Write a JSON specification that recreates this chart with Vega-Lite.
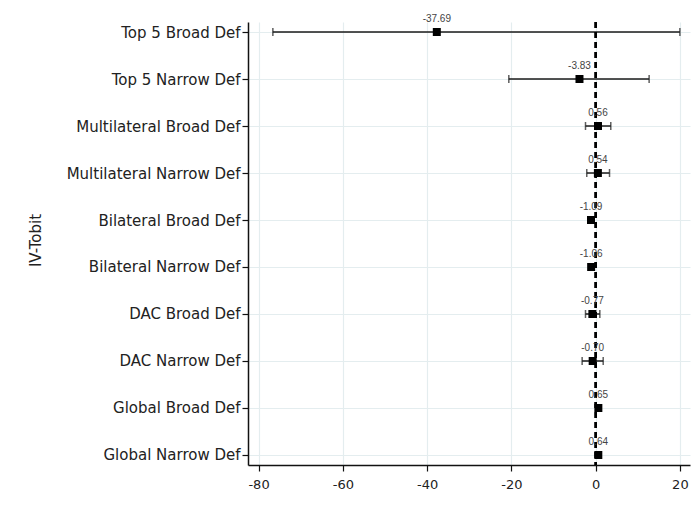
{
  "$schema": "https://vega.github.io/schema/vega-lite/v6.json",
  "width": 442,
  "height": 443,
  "autosize": {"type": "none"},
  "padding": {"left": 248, "top": 22, "right": 7, "bottom": 47},
  "background": "white",
  "config": {
    "view": {"stroke": null},
    "font": "Liberation Sans",
    "axis": {
      "domainColor": "#111",
      "domainWidth": 1.5,
      "tickColor": "#111",
      "tickWidth": 1.2,
      "tickSize": 6,
      "gridColor": "#e4edef",
      "gridWidth": 1.2,
      "labelFont": "DejaVu Sans",
      "labelFontSize": 15,
      "labelColor": "#222",
      "titleFont": "DejaVu Sans",
      "titleFontSize": 15,
      "titleFontWeight": "normal",
      "titleColor": "#222"
    }
  },
  "data": {
    "values": [
      {"model": "Top 5 Broad Def", "coef": -37.69, "lo": -76.6, "hi": 20.0},
      {"model": "Top 5 Narrow Def", "coef": -3.83, "lo": -20.6, "hi": 12.7},
      {"model": "Multilateral Broad Def", "coef": 0.56, "lo": -2.4, "hi": 3.6},
      {"model": "Multilateral Narrow Def", "coef": 0.54, "lo": -2.1, "hi": 3.3},
      {"model": "Bilateral Broad Def", "coef": -1.09, "lo": -1.7, "hi": -0.5},
      {"model": "Bilateral Narrow Def", "coef": -1.06, "lo": -1.6, "hi": -0.5},
      {"model": "DAC Broad Def", "coef": -0.77, "lo": -2.4, "hi": 1.0},
      {"model": "DAC Narrow Def", "coef": -0.70, "lo": -3.2, "hi": 1.8},
      {"model": "Global Broad Def", "coef": 0.65, "lo": 0.3, "hi": 1.0},
      {"model": "Global Narrow Def", "coef": 0.64, "lo": 0.3, "hi": 1.0}
    ]
  },
  "encoding": {
    "y": {
      "field": "model",
      "type": "nominal",
      "sort": null,
      "scale": {"type": "point", "padding": 0.213},
      "axis": {
        "title": "IV-Tobit",
        "grid": true,
        "labelPadding": 2,
        "titleAngle": -90,
        "titleX": -213,
        "titleY": 218,
        "titleAlign": "center",
        "titleBaseline": "middle"
      }
    }
  },
  "layer": [
    {
      "mark": {"type": "rule", "color": "#1a1a1a", "strokeWidth": 1.5},
      "encoding": {
        "x": {
          "field": "lo",
          "type": "quantitative",
          "scale": {"domain": [-82.5, 22.4], "nice": false, "zero": false},
          "axis": {
            "title": null,
            "values": [-80, -60, -40, -20, 0, 20],
            "grid": true,
            "labelPadding": 7,
            "labelFontSize": 13,
            "labelExpr": "replace(datum.label, '\u2212', '-')"
          }
        },
        "x2": {"field": "hi"}
      }
    },
    {
      "mark": {"type": "tick", "color": "#1a1a1a", "size": 8, "thickness": 1.5},
      "encoding": {"x": {"field": "lo", "type": "quantitative"}}
    },
    {
      "mark": {"type": "tick", "color": "#1a1a1a", "size": 8, "thickness": 1.5},
      "encoding": {"x": {"field": "hi", "type": "quantitative"}}
    },
    {
      "mark": {"type": "rule", "color": "#000", "strokeWidth": 1.5, "strokeDash": [6, 4]},
      "encoding": {"x": {"datum": 0}, "y": null}
    },
    {
      "mark": {"type": "point", "shape": "square", "filled": true, "color": "#000", "size": 64, "opacity": 1},
      "encoding": {"x": {"field": "coef", "type": "quantitative"}}
    },
    {
      "mark": {
        "type": "text",
        "fontSize": 10,
        "color": "#444",
        "dy": -13,
        "font": "Liberation Sans",
        "text": {"expr": "replace(format(datum.coef, '.2f'), '\u2212', '-')"}
      },
      "encoding": {
        "x": {"field": "coef", "type": "quantitative"}
      }
    }
  ]
}
